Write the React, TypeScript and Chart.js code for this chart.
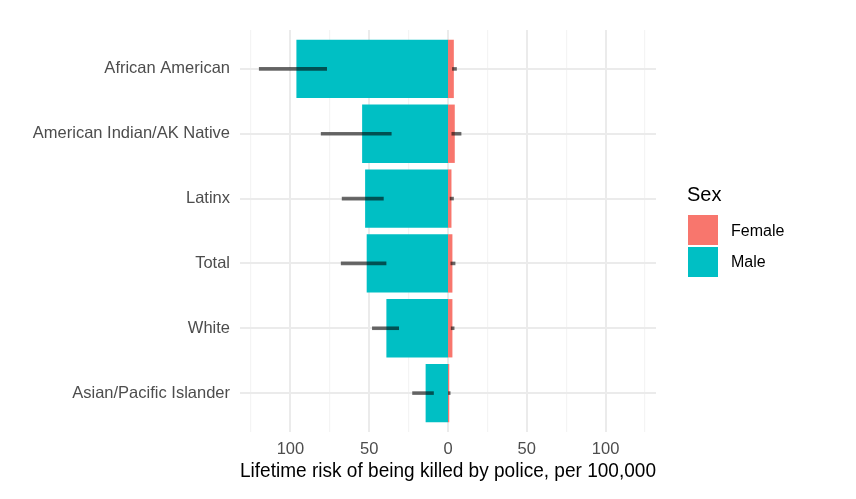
import React, { useEffect, useRef } from 'react';
import { Chart, registerables } from 'chart.js';

Chart.register(...registerables);

// categories top to bottom
const categories = [
  'African American',
  'American Indian/AK Native',
  'Latinx',
  'Total',
  'White',
  'Asian/Pacific Islander',
];

// lifetime risk per 100,000
const maleRisk = [96.2, 54.5, 52.6, 51.6, 39.1, 14.2];
const maleLow = [76.8, 35.8, 40.8, 39.1, 31.1, 9.0];
const maleHigh = [120, 80.7, 67.4, 68.0, 48.2, 22.7];

const femaleRisk = [3.7, 4.3, 2.2, 2.8, 2.8, 0.8];
const femaleLow = [2.6, 2.2, 1.1, 1.6, 1.8, 0.1];
const femaleHigh = [5.6, 8.5, 3.7, 4.7, 4.1, 1.6];

const xTicks = [-125, -100, -75, -50, -25, 0, 25, 50, 75, 100, 125];

const FEMALE = '#F8766D';
const MALE = '#00BFC4';
const FONT = "'Liberation Sans', Arial, sans-serif";
const MAJOR_GRID = '#ebebeb';

// the zero gridline is drawn here so Chart.js does not pull the bars off it
const zeroLine = {
  id: 'zeroLine',
  beforeDatasetsDraw(chart) {
    const { ctx, chartArea, scales } = chart;
    const px = scales.x.getPixelForValue(0);
    ctx.save();
    ctx.strokeStyle = MAJOR_GRID;
    ctx.lineWidth = 2;
    ctx.beginPath();
    ctx.moveTo(px, chartArea.top);
    ctx.lineTo(px, chartArea.bottom);
    ctx.stroke();
    ctx.restore();
  },
};

// horizontal error ranges drawn over the bars
const errorBars = {
  id: 'errorBars',
  afterDatasetsDraw(chart) {
    const { ctx, scales } = chart;
    const x = scales.x;
    const y = scales.y;
    ctx.save();
    ctx.strokeStyle = 'rgba(0,0,0,0.58)';
    ctx.lineWidth = 3.6;
    ctx.lineCap = 'butt';
    categories.forEach((_, i) => {
      const py = y.getPixelForValue(i);
      ctx.beginPath();
      ctx.moveTo(x.getPixelForValue(-maleHigh[i]), py);
      ctx.lineTo(x.getPixelForValue(-maleLow[i]), py);
      ctx.stroke();
      ctx.beginPath();
      ctx.moveTo(x.getPixelForValue(femaleLow[i]), py);
      ctx.lineTo(x.getPixelForValue(femaleHigh[i]), py);
      ctx.stroke();
    });
    ctx.restore();
  },
};

export default function App() {
  const canvasRef = useRef(null);
  const chartRef = useRef(null);

  useEffect(() => {
    if (!canvasRef.current) return;
    if (chartRef.current) chartRef.current.destroy();

    chartRef.current = new Chart(canvasRef.current, {
      type: 'bar',
      data: {
        datasets: [
          {
            label: 'Male',
            data: maleRisk.map((v, i) => ({ x: -v, y: i })),
            backgroundColor: MALE,
            grouped: false,
            borderWidth: 0,
          },
          {
            label: 'Female',
            data: femaleRisk.map((v, i) => ({ x: v, y: i })),
            backgroundColor: FEMALE,
            grouped: false,
            borderWidth: 0,
          },
        ],
      },
      plugins: [zeroLine, errorBars],
      options: {
        indexAxis: 'y',
        animation: false,
        responsive: false,
        layout: { padding: { top: 30, right: 200, left: 0, bottom: 0 } },
        datasets: { bar: { barPercentage: 0.9, categoryPercentage: 1 } },
        plugins: { legend: { display: false }, tooltip: { enabled: false } },
        scales: {
          x: {
            type: 'linear',
            min: -132,
            max: 132,
            offset: false,
            afterBuildTicks: (scale) => {
              scale.ticks = xTicks.map((v) => ({ value: v }));
            },
            afterFit: (scale) => {
              scale.height = 67;
            },
            border: { display: false },
            grid: {
              offset: false,
              drawTicks: false,
              color: (c) => (c.tick && c.tick.value % 50 === 0 ? MAJOR_GRID : '#f4f4f4'),
              lineWidth: (c) => {
                if (!c.tick) return 1;
                if (c.tick.value === 0) return 0;
                return c.tick.value % 50 === 0 ? 2 : 1.2;
              },
            },
            ticks: {
              autoSkip: false,
              maxRotation: 0,
              padding: 8,
              color: '#4d4d4d',
              font: { family: FONT, size: 16.5 },
              callback: (v) => (v % 50 === 0 ? String(Math.abs(v)) : ''),
            },
            title: {
              display: true,
              text: 'Lifetime risk of being killed by police, per 100,000',
              color: '#000000',
              font: { family: FONT, size: 20.5 },
              padding: { top: 0, bottom: 15 },
            },
          },
          y: {
            type: 'linear',
            reverse: true,
            offset: false,
            min: -0.6,
            max: categories.length - 0.4,
            afterBuildTicks: (scale) => {
              scale.ticks = categories.map((_, i) => ({ value: i }));
            },
            afterFit: (scale) => {
              scale.width = 240;
            },
            border: { display: false },
            grid: { offset: false, drawTicks: false, color: MAJOR_GRID, lineWidth: 2 },
            ticks: {
              autoSkip: false,
              padding: 10,
              color: '#4d4d4d',
              font: { family: FONT, size: 16.5 },
              callback: (v) => categories[v] ?? '',
            },
          },
        },
      },
    });

    return () => {
      if (chartRef.current) {
        chartRef.current.destroy();
        chartRef.current = null;
      }
    };
  }, []);

  const legendText = { position: 'absolute', fontFamily: FONT, color: '#000', whiteSpace: 'nowrap' };

  return (
    <div style={{ position: 'absolute', left: 0, top: 0, width: 856, height: 499, background: '#fff' }}>
      <canvas ref={canvasRef} width={856} height={499} style={{ display: 'block' }} />
      <div style={{ ...legendText, left: 687, top: 184, fontSize: 20, lineHeight: '20px' }}>Sex</div>
      <div style={{ position: 'absolute', left: 688, top: 215, width: 30, height: 30, background: FEMALE }} />
      <div style={{ position: 'absolute', left: 688, top: 247, width: 30, height: 30, background: MALE }} />
      <div style={{ ...legendText, left: 731, top: 221, fontSize: 16, lineHeight: '20px' }}>Female</div>
      <div style={{ ...legendText, left: 731, top: 252, fontSize: 16, lineHeight: '20px' }}>Male</div>
    </div>
  );
}
